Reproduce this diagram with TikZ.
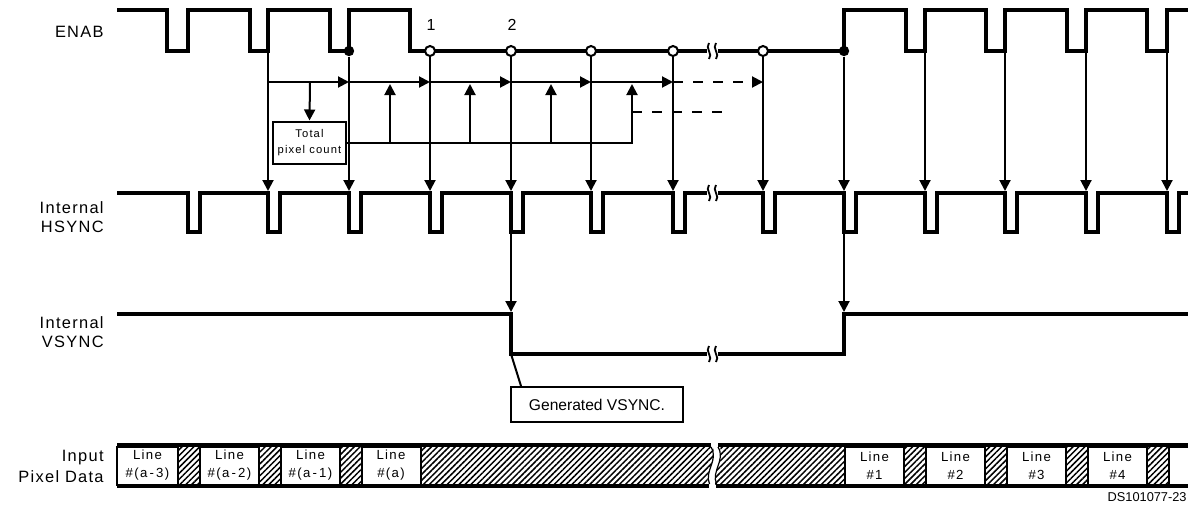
\documentclass[tikz,border=0pt]{standalone}
\usepackage{fontspec}
\setmainfont{Liberation Sans}
\newfontfamily\lblfont[LetterSpace=8]{Liberation Sans}
\newfontfamily\smfont[LetterSpace=10]{Liberation Sans}
\usepackage{tikz}
\usetikzlibrary{arrows.meta,positioning,calc,patterns.meta}

\tikzset{
  gapmark/.pic={
    \draw[line width=0.9pt] (-3.5,-8) .. controls (-8,-3) and (1,3) .. (-3.5,8);
    \draw[line width=0.9pt] (3.5,-8) .. controls (-1,-3) and (8,3) .. (3.5,8);
  }
}

\begin{document}
\begin{tikzpicture}[x=0.5pt,y=-0.5pt,
  wave/.style={line width=2pt,line join=miter},
  sig/.style={line width=1pt,-{Triangle[length=5.5pt,width=5.5pt]}},
  link/.style={line width=1pt},
  dash5/.style={dash pattern=on 5pt off 5pt},
  lbl/.style={font=\lblfont\fontsize{8.2}{9.5}\selectfont,align=right,
              anchor=east,inner sep=0pt},
  num/.style={font=\fontsize{8}{9}\selectfont,inner sep=0pt},
  opendot/.style={circle,draw,fill=white,line width=1pt,minimum size=5pt,inner sep=0pt},
  fulldot/.style={circle,fill=black,minimum size=5.2pt,inner sep=0pt},
  cntbox/.style={draw,fill=white,line width=1pt,minimum width=36.5pt,minimum height=21pt,
                 inner sep=0pt,align=center,font=\smfont\fontsize{5.6}{8}\selectfont},
  gbox/.style={draw,fill=white,line width=1pt,minimum width=86pt,minimum height=17.5pt,
               inner sep=0pt,font=\fontsize{7.8}{9}\selectfont},
  cell/.style={draw,fill=white,line width=1pt,minimum width=29.5pt,minimum height=19pt,
               inner sep=0pt,align=center,font=\smfont\fontsize{6.6}{9}\selectfont},
  hatch/.style={pattern={Lines[angle=45,distance=2.1pt,line width=0.75pt]}}
]
  \useasboundingbox (0,0) rectangle (1188,504);

  % Signal names
  \node[lbl] (enab) at (104,32)  {ENAB};
  \node[lbl] (hsl)  at (104,217) {Internal\\HSYNC};
  \node[lbl] (vsl)  at (104,332) {Internal\\VSYNC};
  \node[lbl] (pdl)  at (104,466) {Input\\[1pt]Pixel Data};

  % ENAB
  \draw[wave] (117,10) -- (167,10) -- (167,51) -- (188,51) -- (188,10)
    -- (250,10) -- (250,51) -- (268,51) -- (268,10)
    -- (330,10) -- (330,51) -- (349,51) -- (349,10)
    -- (410,10) -- (410,51) -- (707,51);
  \draw[wave] (718,51) -- (844,51) -- (844,10)
    -- (906,10) -- (906,51) -- (925,51) -- (925,10)
    -- (986,10) -- (986,51) -- (1005,51) -- (1005,10)
    -- (1067,10) -- (1067,51) -- (1086,51) -- (1086,10)
    -- (1147,10) -- (1147,51) -- (1167,51) -- (1167,10) -- (1190,10);
  \pic at (712.5,51) {gapmark};

  % Internal HSYNC
  \draw[wave] (117,193) -- (188,193) -- (188,232) -- (200,232) -- (200,193)
    -- (268,193) -- (268,232) -- (280,232) -- (280,193)
    -- (349,193) -- (349,232) -- (361,232) -- (361,193)
    -- (430,193) -- (430,232) -- (442,232) -- (442,193)
    -- (511,193) -- (511,232) -- (523,232) -- (523,193)
    -- (591,193) -- (591,232) -- (603,232) -- (603,193)
    -- (673,193) -- (673,232) -- (685,232) -- (685,193) -- (707,193);
  \draw[wave] (718,193) -- (763,193) -- (763,232) -- (775,232) -- (775,193)
    -- (844,193) -- (844,232) -- (856,232) -- (856,193)
    -- (925,193) -- (925,232) -- (937,232) -- (937,193)
    -- (1005,193) -- (1005,232) -- (1017,232) -- (1017,193)
    -- (1086,193) -- (1086,232) -- (1098,232) -- (1098,193)
    -- (1167,193) -- (1167,232) -- (1179,232) -- (1179,193) -- (1190,193);
  \pic at (712.5,193) {gapmark};

  % Internal VSYNC
  \draw[wave] (117,314) -- (511,314) -- (511,354) -- (707,354);
  \draw[wave] (718,354) -- (844,354) -- (844,314) -- (1190,314);
  \pic at (712.5,354) {gapmark};

  % ENAB sampling points
  \coordinate (e1)  at (268,51);
  \node[fulldot] (d1) at (349,51) {};
  \node[opendot] (c1) at (430,51) {};
  \node[opendot] (c2) at (511,51) {};
  \node[opendot] (c3) at (591,51) {};
  \node[opendot] (c4) at (673,51) {};
  \node[opendot] (c5) at (763,51) {};
  \node[fulldot] (d2) at (844,51) {};
  \coordinate (e9)  at (925,51);
  \coordinate (e10) at (1005,51);
  \coordinate (e11) at (1086,51);
  \coordinate (e12) at (1167,51);
  \node[num] (n1) at (431,25) {1};
  \node[num] (n2) at (512,25) {2};

  % HSYNC / VSYNC targets
  \coordinate (h1)  at (268,191);
  \coordinate (h2)  at (349,191);
  \coordinate (h3)  at (430,191);
  \coordinate (h4)  at (511,191);
  \coordinate (h5)  at (591,191);
  \coordinate (h6)  at (673,191);
  \coordinate (h7)  at (763,191);
  \coordinate (h8)  at (844,191);
  \coordinate (h9)  at (925,191);
  \coordinate (h10) at (1005,191);
  \coordinate (h11) at (1086,191);
  \coordinate (h12) at (1167,191);
  \coordinate (hb4) at (511,232);
  \coordinate (hb8) at (844,232);
  \coordinate (v1)  at (511,312);
  \coordinate (v2)  at (844,312);

  % ENAB -> HSYNC -> VSYNC
  \draw[sig] (e1) -- (h1);
  \draw[sig] (d1) -- (h2);
  \draw[sig] (c1) -- (h3);
  \draw[sig] (c2) -- (h4);
  \draw[sig] (c3) -- (h5);
  \draw[sig] (c4) -- (h6);
  \draw[sig] (c5) -- (h7);
  \draw[sig] (d2) -- (h8);
  \draw[sig] (e9) -- (h9);
  \draw[sig] (e10) -- (h10);
  \draw[sig] (e11) -- (h11);
  \draw[sig] (e12) -- (h12);
  \draw[sig] (hb4) -- (v1);
  \draw[sig] (hb8) -- (v2);

  % Pixel counter
  \coordinate (r0) at (268,82);
  \coordinate (r1) at (349,82);
  \coordinate (r2) at (430,82);
  \coordinate (r3) at (511,82);
  \coordinate (r4) at (591,82);
  \coordinate (r5) at (673,82);
  \coordinate (r6) at (763,82);
  \draw[sig] (r0) -- (r1);
  \draw[sig] (r1) -- (r2);
  \draw[sig] (r2) -- (r3);
  \draw[sig] (r3) -- (r4);
  \draw[sig] (r4) -- (r5);
  \draw[sig,dash5] (r5) -- (r6);
  \node[cntbox] (tpc) at (309.5,142.5) {Total\\pixel count};
  \draw[sig] (310,82) -- (tpc.north);
  \coordinate (u1) at (390,84);
  \coordinate (u2) at (470,84);
  \coordinate (u3) at (551,84);
  \coordinate (u4) at (632,84);
  \draw[sig] (tpc.east) -| (u4);
  \draw[sig] (u1 |- tpc.east) -- (u1);
  \draw[sig] (u2 |- tpc.east) -- (u2);
  \draw[sig] (u3 |- tpc.east) -- (u3);
  \coordinate (q0) at (632,112);
  \coordinate (q1) at (730,112);
  \draw[link,dash5] (q0) -- (q1);

  % Generated VSYNC callout
  \coordinate (vfall) at (511,354);
  \node[gbox] (gen) at (597,404.5) {Generated VSYNC.};
  \draw[link] (vfall) -- ([xshift=5.5pt]gen.north west);

  % Input Pixel Data
  \fill[hatch] (117,447) rectangle (1190,484);
  \node[cell,minimum width=30.5pt] (la3) at (147.5,465.5) {Line\\\#(a\,-\,3)};
  \node[cell] (la2) at (229.5,465.5) {Line\\\#(a\,-\,2)};
  \node[cell] (la1) at (310.5,465.5) {Line\\\#(a\,-\,1)};
  \node[cell] (la0) at (391,465.5)   {Line\\\#(a)};
  \node[cell] (ln1) at (874.5,465.5) {Line\\\#1};
  \node[cell] (ln2) at (955.5,465.5) {Line\\\#2};
  \node[cell] (ln3) at (1036.5,465.5) {Line\\\#3};
  \node[cell] (ln4) at (1117.5,465.5) {Line\\\#4};
  \node[cell,minimum width=13pt] (lend) at (1182,465.5) {};
  \fill[white] (711,442) .. controls (720,458) and (703,472) .. (709,489)
    -- (716,489) .. controls (710,472) and (727,458) .. (718,442) -- cycle;
  \draw[line width=0.6pt] (711,447) .. controls (719,460) and (704,471) .. (709.5,484);
  \draw[line width=0.6pt] (718,447) .. controls (726,460) and (711,471) .. (716.5,484);
  \draw[wave] (117,445) -- (711,445);
  \draw[wave] (718,445) -- (1190,445);
  \draw[wave] (117,486) -- (709,486);
  \draw[wave] (716,486) -- (1190,486);

  \node[font=\fontsize{6.4}{7}\selectfont,anchor=base east,inner sep=0pt] (dsno)
    at (1187,501) {DS101077-23};
\end{tikzpicture}
\end{document}
